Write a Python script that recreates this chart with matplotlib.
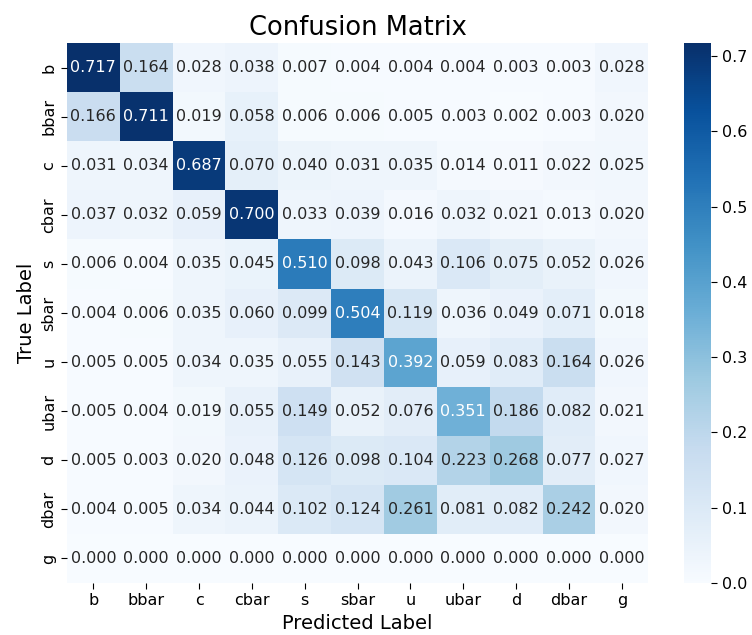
import numpy as np
import matplotlib
matplotlib.use("Agg")
import matplotlib.pyplot as plt
import seaborn as sns

labels = ['b', 'bbar', 'c', 'cbar', 's', 'sbar', 'u', 'ubar', 'd', 'dbar', 'g']

row_b    = [0.717, 0.164, 0.028, 0.038, 0.007, 0.004, 0.004, 0.004, 0.003, 0.003, 0.028]
row_bbar = [0.166, 0.711, 0.019, 0.058, 0.006, 0.006, 0.005, 0.003, 0.002, 0.003, 0.020]
row_c    = [0.031, 0.034, 0.687, 0.070, 0.040, 0.031, 0.035, 0.014, 0.011, 0.022, 0.025]
row_cbar = [0.037, 0.032, 0.059, 0.700, 0.033, 0.039, 0.016, 0.032, 0.021, 0.013, 0.020]
row_s    = [0.006, 0.004, 0.035, 0.045, 0.510, 0.098, 0.043, 0.106, 0.075, 0.052, 0.026]
row_sbar = [0.004, 0.006, 0.035, 0.060, 0.099, 0.504, 0.119, 0.036, 0.049, 0.071, 0.018]
row_u    = [0.005, 0.005, 0.034, 0.035, 0.055, 0.143, 0.392, 0.059, 0.083, 0.164, 0.026]
row_ubar = [0.005, 0.004, 0.019, 0.055, 0.149, 0.052, 0.076, 0.351, 0.186, 0.082, 0.021]
row_d    = [0.005, 0.003, 0.020, 0.048, 0.126, 0.098, 0.104, 0.223, 0.268, 0.077, 0.027]
row_dbar = [0.004, 0.005, 0.034, 0.044, 0.102, 0.124, 0.261, 0.081, 0.082, 0.242, 0.020]
row_g    = [0.000] * 11

cm = np.array([row_b, row_bbar, row_c, row_cbar, row_s, row_sbar,
               row_u, row_ubar, row_d, row_dbar, row_g])

plt.rcParams['xtick.labelsize'] = 11.5
plt.rcParams['ytick.labelsize'] = 11.5
plt.rcParams['xtick.major.size'] = 4
plt.rcParams['ytick.major.size'] = 4

fig = plt.figure(figsize=(7.52, 6.35), dpi=100)
ax = fig.add_axes([0.089, 0.082, 0.773, 0.850])
cax = fig.add_axes([0.910, 0.082, 0.036, 0.850])

sns.heatmap(cm, annot=True, fmt='.3f', cmap='Blues',
            xticklabels=labels, yticklabels=labels,
            ax=ax, cbar_ax=cax, annot_kws={'size': 11.5})

ax.set_title('Confusion Matrix', fontsize=18.5)
ax.set_xlabel('Predicted Label', fontsize=14)
ax.set_ylabel('True Label', fontsize=14)
cax.tick_params(labelsize=11.5)

fig.savefig('out.png', dpi=100)
